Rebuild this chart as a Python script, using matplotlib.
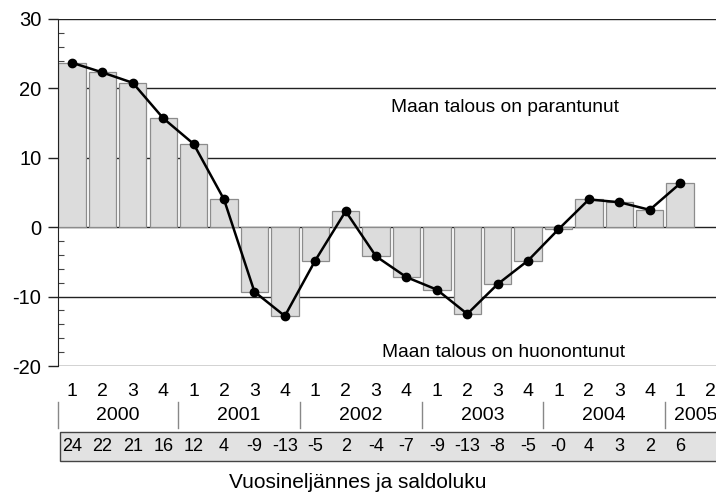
import numpy as np
import matplotlib
matplotlib.use("Agg")
import matplotlib.pyplot as plt
from matplotlib.ticker import MultipleLocator
from matplotlib.transforms import blended_transform_factory
from matplotlib.patches import Rectangle
from matplotlib.lines import Line2D

plt.rcParams['font.family'] = ['Liberation Sans', 'DejaVu Sans']
plt.rcParams['axes.unicode_minus'] = False

# quarterly balance figures 2000Q1 .. 2005Q1
quarters = ['1', '2', '3', '4'] * 5 + ['1', '2']
years = ['2000', '2001', '2002', '2003', '2004', '2005']
values = [23.7, 22.3, 20.8, 15.7, 12.0, 4.0, -9.3, -12.8, -4.8, 2.3, -4.2,
          -7.2, -9.0, -12.5, -8.2, -4.8, -0.3, 4.0, 3.6, 2.5, 6.3]
table_labels = ['24', '22', '21', '16', '12', '4', '-9', '-13', '-5', '2', '-4',
                '-7', '-9', '-13', '-8', '-5', '-0', '4', '3', '2', '6']

W, H = 716, 494
fig = plt.figure(figsize=(W / 100, H / 100), dpi=100)
ax = fig.add_axes([58 / W, 1 - 366 / H, 1 - 58 / W, (366 - 19) / H])

x = np.arange(len(values))
ax.bar(x, values, width=0.9, color='#dcdcdc', edgecolor='#8c8c8c', linewidth=0.9, zorder=2)
ax.plot(x, values, color='black', linewidth=1.8, marker='o', markersize=6, zorder=3)

ax.set_xlim(-0.46, 21.18)
ax.set_ylim(-20, 30)
ax.yaxis.set_major_locator(MultipleLocator(10))
ax.yaxis.set_minor_locator(MultipleLocator(2))
ax.tick_params(axis='y', which='major', direction='out', length=7, width=1,
               labelsize=14.5, pad=5, color='#222')
ax.tick_params(axis='y', which='minor', direction='in', length=4, width=0.8, color='#444')
ax.set_xticks([])
for s in ['top', 'right', 'bottom']:
    ax.spines[s].set_visible(False)
ax.spines['left'].set_color('#222')
ax.grid(axis='y', which='major', color='#222', linewidth=1.0, zorder=1)
ax.set_axisbelow(True)

ax.text(14.24, 17.3, 'Maan talous on parantunut', ha='center', va='center', fontsize=13.8)
ax.text(14.2, -18.1, 'Maan talous on huonontunut', ha='center', va='center', fontsize=13.8)

# category rows below the plot
tr = blended_transform_factory(ax.transData, fig.transFigure)
fy = lambda p: 1 - p / H
for i, q in enumerate(quarters):
    ax.text(i, fy(391), q, transform=tr, ha='center', va='center', fontsize=14, clip_on=False)
for k, yr in enumerate(years):
    xc = 1.5 + 4 * k if k < 5 else 20.5
    ax.text(xc, fy(415), yr, transform=tr, ha='center', va='center', fontsize=14, clip_on=False)
for xs in [-0.46, 3.5, 7.5, 11.5, 15.5, 19.5]:
    ax.add_line(Line2D([xs, xs], [fy(402), fy(428)], transform=tr, color='#888',
                       linewidth=1, clip_on=False))
ax.add_patch(Rectangle((-0.39, fy(461)), 23, (461 - 432) / H, transform=tr,
                       facecolor='#e2e2e2', edgecolor='#444', linewidth=1, clip_on=False))
for i, t in enumerate(table_labels):
    ax.text(i, fy(446), t, transform=tr, ha='center', va='center', fontsize=13, clip_on=False)

fig.text(0.5, fy(482), 'Vuosineljännes ja saldoluku', ha='center', va='center', fontsize=15)

fig.savefig('out.png', dpi=100)
